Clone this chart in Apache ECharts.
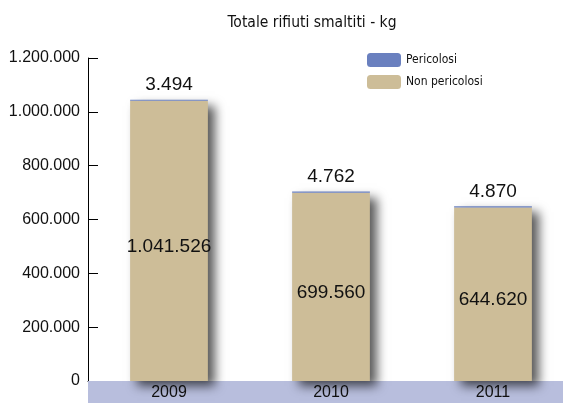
<!DOCTYPE html>
<html><head><meta charset="utf-8">
<script src="https://cdn.jsdelivr.net/npm/echarts@6/dist/echarts.min.js"></script>
<style>html,body{margin:0;padding:0;background:#fff}#c{width:563px;height:403px}</style>
</head><body><div id="c"></div>
<script>
const categories = ['2009', '2010', '2011'];
const nonPericolosi = [1041526, 699560, 644620];
const pericolosi = [3494, 4762, 4870];
const yTicks = [0, 200000, 400000, 600000, 800000, 1000000, 1200000];

function fmt(v){ return String(v).replace(/\B(?=(\d{3})+(?!\d))/g, '.'); }
const COND = '"DejaVu Sans Condensed", "Liberation Sans Narrow", "Roboto Condensed", sans-serif';
const SANS = '"Liberation Sans", Arial, sans-serif';

const chart = echarts.init(document.getElementById('c'));
const shadow = {shadowColor:'rgba(0,0,0,0.65)', shadowBlur:10, shadowOffsetX:7, shadowOffsetY:5};
chart.setOption({
  animation:false,
  title:{text:'Totale rifiuti smaltiti - kg', left:307, top:10, textAlign:'center',
    textStyle:{fontFamily:COND, fontWeight:'normal', fontSize:15.5, color:'#111'}},
  legend:{orient:'vertical', left:362, top:48, itemWidth:34, itemHeight:14, itemGap:8, icon:'roundRect',
    textStyle:{fontFamily:COND, fontSize:12, color:'#111'},
    data:['Pericolosi','Non pericolosi']},
  grid:{left:88, width:486, top:58, bottom:22, containLabel:false, outerBoundsMode:'none'},
  xAxis:{type:'category', data:categories,
    axisLine:{lineStyle:{color:'#000', width:1}},
    axisTick:{inside:true, length:7, lineStyle:{color:'#000'}},
    axisLabel:{interval:0, margin:0, backgroundColor:'#b8bedd', width:162, height:22, lineHeight:23, align:'center',
      padding:0, fontFamily:SANS, fontSize:16, color:'#111', hideOverlap:false}},
  yAxis:{type:'value', min:yTicks[0], max:yTicks[yTicks.length-1], interval:200000,
    axisLine:{show:true, lineStyle:{color:'#000'}},
    axisTick:{show:true, inside:true, length:10, lineStyle:{color:'#000'}},
    splitLine:{show:false},
    axisLabel:{margin:8, formatter:v=>fmt(v), fontFamily:SANS, fontSize:16, color:'#111'}},
  series:[
    {name:'Non pericolosi', type:'bar', stack:'t', barWidth:'48%', data:nonPericolosi,
      itemStyle:Object.assign({color:'#cdbd98'}, shadow),
      label:{show:true, position:'inside', offset:[0,6], formatter:p=>fmt(p.value), fontFamily:SANS, fontSize:19, color:'#111'}},
    {name:'Pericolosi', type:'bar', stack:'t', barWidth:'48%', data:pericolosi,
      itemStyle:{color:'#6a80bf'},
      label:{show:true, position:'top', distance:5, formatter:p=>fmt(p.value), fontFamily:SANS, fontSize:19, color:'#111'}}
  ]
});
</script></body></html>
